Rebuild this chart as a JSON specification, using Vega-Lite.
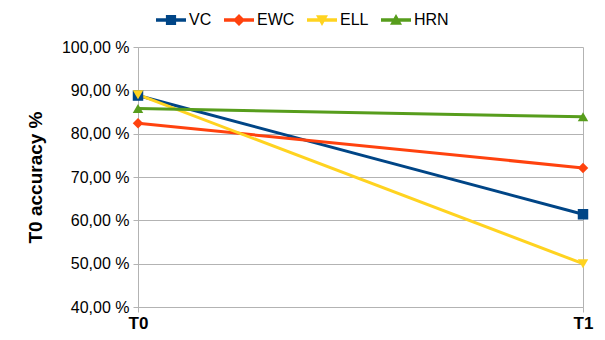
{
  "$schema": "https://vega.github.io/schema/vega-lite/v6.json",
  "width": 445,
  "height": 260,
  "autosize": {"type": "none"},
  "padding": {"left": 138, "top": 47, "right": 22, "bottom": 33},
  "background": "white",
  "config": {
    "font": "Liberation Sans",
    "view": {"stroke": null},
    "axis": {"gridColor": "#b3b3b3", "domainColor": "#b3b3b3", "tickColor": "#b3b3b3", "labelColor": "#000000", "titleColor": "#000000"},
    "legend": {
      "title": null, "orient": "none", "direction": "horizontal", "legendX": 18, "legendY": -42,
      "labelFontSize": 16, "labelColor": "#000000", "symbolSize": 900, "columnPadding": 12, "labelOffset": 3
    }
  },
  "data": {
    "values": [
      {"series": "VC", "task": "T0", "acc": 88.8},
      {"series": "VC", "task": "T1", "acc": 61.4},
      {"series": "EWC", "task": "T0", "acc": 82.4},
      {"series": "EWC", "task": "T1", "acc": 72.1},
      {"series": "ELL", "task": "T0", "acc": 89.0},
      {"series": "ELL", "task": "T1", "acc": 50.0},
      {"series": "HRN", "task": "T0", "acc": 85.8},
      {"series": "HRN", "task": "T1", "acc": 83.9}
    ]
  },
  "encoding": {
    "x": {
      "field": "task", "type": "ordinal",
      "scale": {"type": "point", "padding": 0},
      "axis": {"title": null, "labelAngle": 0, "labelFontSize": 17, "labelFontWeight": "bold", "labelPadding": 3, "tickSize": 5, "grid": true, "domain": true}
    },
    "y": {
      "field": "acc", "type": "quantitative",
      "scale": {"domain": [40, 100], "nice": false, "zero": false},
      "axis": {
        "title": "T0 accuracy %", "titleFontSize": 19, "titleFontWeight": "bold", "titlePadding": 16,
        "values": [40, 50, 60, 70, 80, 90, 100],
        "labelExpr": "replace(format(datum.value, '.2f'), '.', ',') + ' %'",
        "labelFontSize": 16, "labelPadding": 4, "tickSize": 5, "grid": true, "domain": true
      }
    },
    "color": {
      "field": "series", "type": "nominal",
      "scale": {"domain": ["VC", "EWC", "ELL", "HRN"], "range": ["#004586", "#ff420e", "#ffd320", "#579d1c"]},
      "legend": {
        "encode": {
          "symbols": {
            "update": {
              "shape": {"signal": "datum.value === 'VC' ? 'M-1,-0.12H1V0.12H-1Z M-0.34,-0.34H0.34V0.34H-0.34Z' : datum.value === 'EWC' ? 'M-1,-0.12H1V0.12H-1Z M0,-0.4L0.4,0L0,0.4L-0.4,0Z' : datum.value === 'ELL' ? 'M-1,-0.12H1V0.12H-1Z M-0.4,-0.32L0.4,-0.32L0,0.4Z' : 'M-1,-0.12H1V0.12H-1Z M-0.4,0.32L0,-0.4L0.4,0.32Z'"},
              "size": {"value": 900},
              "fill": {"scale": "color", "field": "value"},
              "stroke": {"value": "transparent"},
              "strokeWidth": {"value": 0},
              "opacity": {"value": 1}
            }
          }
        }
      }
    }
  },
  "layer": [
    {
      "mark": {"type": "line", "strokeWidth": 3}
    },
    {
      "mark": {"type": "point", "filled": true, "size": 110, "opacity": 1},
      "encoding": {
        "shape": {
          "condition": [
            {"test": "datum.series === 'VC'", "value": "square"},
            {"test": "datum.series === 'EWC'", "value": "diamond"},
            {"test": "datum.series === 'ELL'", "value": "triangle-down"}
          ],
          "value": "triangle-up"
        }
      }
    }
  ]
}
